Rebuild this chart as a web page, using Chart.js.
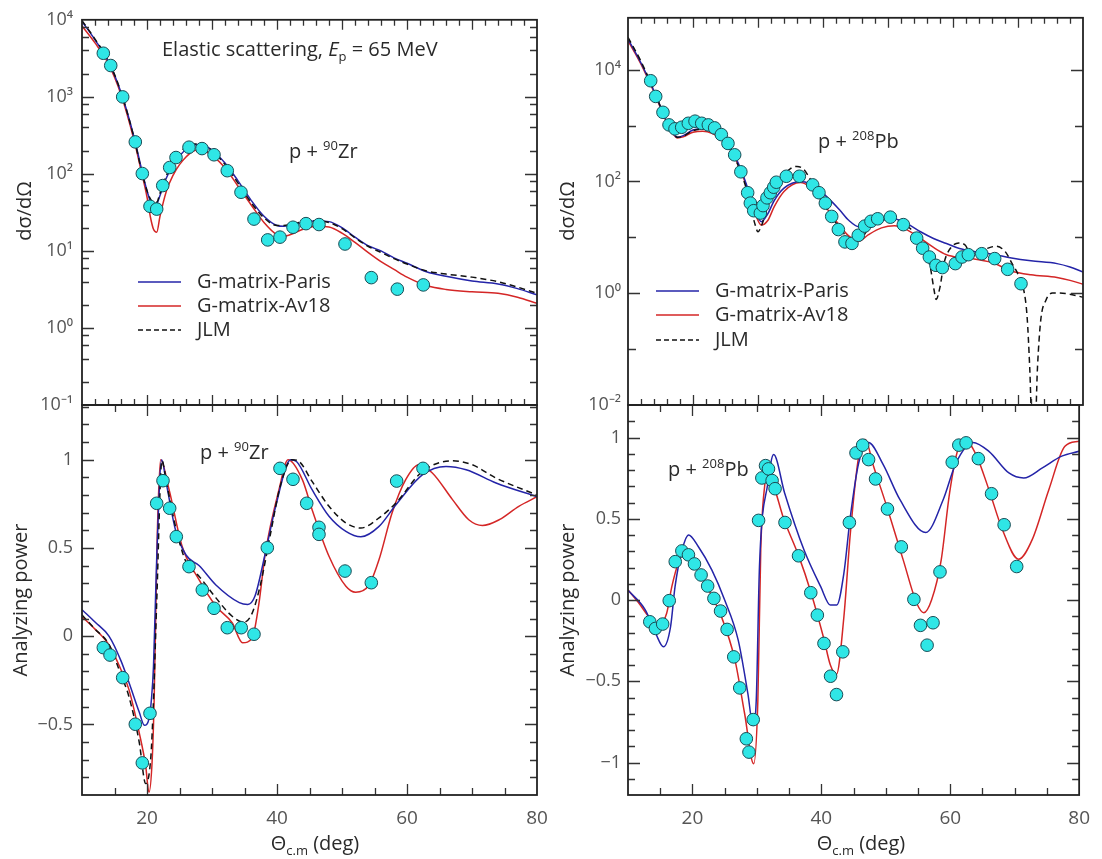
<!DOCTYPE html>
<html><head><meta charset="utf-8">
<script src="https://cdn.jsdelivr.net/npm/chart.js@4.4.1/dist/chart.umd.min.js"></script>
<style>
html,body{margin:0;padding:0;background:#fff;}
body{width:1102px;height:859px;position:relative;overflow:hidden;font-family:'Open Sans',sans-serif;color:#2a2a2a;}
canvas.c{position:absolute;left:0;top:0;}
.t{position:absolute;white-space:nowrap;font-size:20px;line-height:20px;}
.sp{font-size:13px;position:relative;top:-8px;}
.sb{font-size:13px;position:relative;top:5px;}
.rot{position:absolute;white-space:nowrap;font-size:20px;line-height:20px;transform:translate(-50%,-50%) rotate(-90deg);}
.xt{position:absolute;width:240px;text-align:center;font-size:20px;line-height:20px;}
svg.lg{position:absolute;overflow:visible;}
</style></head>
<body>
<canvas id="tl" class="c" width="1102" height="859"></canvas>
<canvas id="bl" class="c" width="1102" height="859"></canvas>
<canvas id="tr" class="c" width="1102" height="859"></canvas>
<canvas id="br" class="c" width="1102" height="859"></canvas>

<div class="t" style="left:162px;top:39px;">Elastic scattering, <i>E</i><span class="sb">p</span> = 65 MeV</div>
<div class="t" style="left:289px;top:141px;">p + <span class="sp">90</span>Zr</div>
<div class="t" style="left:818px;top:131px;">p + <span class="sp">208</span>Pb</div>
<div class="t" style="left:200px;top:442px;">p + <span class="sp">90</span>Zr</div>
<div class="t" style="left:668px;top:459px;">p + <span class="sp">208</span>Pb</div>

<svg class="lg" style="left:0;top:0" width="1102" height="859">
  <line x1="138" y1="282" x2="181" y2="282" stroke="#2424a8" stroke-width="1.5"/>
  <line x1="138" y1="306" x2="181" y2="306" stroke="#d42626" stroke-width="1.5"/>
  <line x1="138" y1="330" x2="181" y2="330" stroke="#111" stroke-width="1.5" stroke-dasharray="5,3"/>
  <line x1="656" y1="291" x2="699" y2="291" stroke="#2424a8" stroke-width="1.5"/>
  <line x1="656" y1="315" x2="699" y2="315" stroke="#d42626" stroke-width="1.5"/>
  <line x1="656" y1="340" x2="699" y2="340" stroke="#111" stroke-width="1.5" stroke-dasharray="5,3"/>
</svg>
<div class="t" style="left:197px;top:271px;">G-matrix-Paris</div>
<div class="t" style="left:197px;top:295px;">G-matrix-Av18</div>
<div class="t" style="left:197px;top:319px;">JLM</div>
<div class="t" style="left:715px;top:280px;">G-matrix-Paris</div>
<div class="t" style="left:715px;top:304px;">G-matrix-Av18</div>
<div class="t" style="left:715px;top:329px;">JLM</div>

<div class="rot" style="left:24px;top:211px;">dσ/dΩ</div>
<div class="rot" style="left:20px;top:600px;">Analyzing power</div>
<div class="rot" style="left:567px;top:211px;">dσ/dΩ</div>
<div class="rot" style="left:567px;top:600px;">Analyzing power</div>
<div class="xt" style="left:195px;top:833px;">Θ<span class="sb">c.m</span> (deg)</div>
<div class="xt" style="left:741px;top:833px;">Θ<span class="sb">c.m</span> (deg)</div>

<script>
// ---------- p + 90Zr cross section ----------
const ZR_XS_ANG = [13.28,14.42,16.26,18.2,19.28,20.46,21.49,22.42,23.49,24.46,26.46,28.46,30.31,32.35,34.46,36.46,38.57,40.46,42.46,44.46,46.46,50.46,54.51,58.51,62.51];
const ZR_XS_VAL = [3680,2550,998,260,101,38,34.9,70.5,121,163,222,213,177,110,57.8,25.9,13.9,15.1,20.3,22.6,22.0,12.3,4.5,3.19,3.62];
const ZR_XS_TH_ANG = [10,12,14,16,18,19,20,20.5,21,21.5,22,23,24,25,26,27,28,29,30,32,34,36,38,40,41,42,44,46,48,50,52,54,56,58,60,63,66,70,74,77,80];
const ZR_XS_PARIS = [9550,5500,2950,1150,302,132,60.3,44.7,38.9,40.7,52.5,89.1,132,170,209,234,240,229,204,138,81.3,45.7,28.2,21.4,20.9,21.4,23.4,24.5,24.0,20.0,15.1,11.7,10,8.13,6.92,5.37,4.68,4.07,3.72,3.24,2.69];
const ZR_XS_AV18  = [8320,5010,2750,1070,275,120,50.1,28.2,19.1,17.5,28.2,60.3,95.5,132,166,195,204,195,174,120,69.2,39.8,23.4,16.2,15.5,16.2,19.1,20.9,20.4,17.0,12.9,9.55,7.24,5.75,4.57,3.55,3.16,2.95,2.82,2.51,2.09];
const ZR_XS_JLM   = [9770,5620,3020,1150,295,126,60.3,47.9,42.7,42.7,56.2,95.5,145,186,224,245,245,229,200,132,75.9,42.7,26.9,21.4,21.4,21.9,24.0,24.5,23.4,19.5,14.8,11.5,9.55,7.94,6.76,5.50,5.01,4.57,3.98,3.39,2.82];

// ---------- p + 208Pb cross section ----------
const PB_XS_ANG = [13.49,14.26,15.38,16.31,17.23,18.26,19.28,20.31,21.34,22.36,23.33,24.36,25.38,26.41,27.36,28.41,28.82,29.34,30.36,30.77,31.38,31.9,32.42,32.82,34.36,36.36,38.41,39.38,40.36,41.34,42.36,43.38,44.46,45.43,46.41,47.38,48.41,50.36,52.36,54.41,55.33,56.36,57.38,58.36,60.36,61.38,62.36,64.42,66.41,68.41,70.46];
const PB_XS_VAL = [6350,3330,1730,1030,875,935,1100,1200,1100,1030,910,690,480,300,149,63,41,30,27.2,37,51,63,79,97,124,124,87,63,41,23.7,13.8,8.3,7.8,10.9,15.9,19.4,21.5,23,16.9,9.7,6.4,4.45,3.16,2.88,3.39,4.45,4.9,5.1,4.17,2.68,1.48];
const PB_XS_TH_ANG = [10,12,14,16,17,17.6,18.5,20,21.5,23,24.5,26,27.5,28.5,29.5,30.5,31.5,32.5,34,36.5,38,39.5,41,42.5,44,45.5,47,49,51,53,55,57,59,61,63,66,69,72,76,78,80];
const PB_XS_PARIS = [35500,13200,4170,1150,724,617,661,832,891,794,603,355,151,70.8,31.6,19.1,26.3,45.7,75.9,100,91.2,69.2,47.9,31.6,20.0,15.5,17.0,20.4,21.4,17.4,12.6,9.55,7.76,6.31,5.62,5.01,4.27,3.80,3.39,2.95,2.40];
const PB_XS_AV18  = [33100,12600,3980,1100,692,603,631,759,794,724,562,331,141,66.1,28.2,16.6,20.0,35.5,66.1,95.5,79.4,50.1,28.2,16.6,10.5,8.51,11.2,14.8,16.2,13.5,9.55,6.61,4.90,4.37,4.17,3.55,2.51,2.14,1.91,1.70,1.45];
const PB_XS_JLM_ANG = [10,12,14,16,17,17.6,18.5,20,21.5,23,24.5,26,27.5,28.5,29.5,30,30.5,31.5,32.5,34,35,36,37,38,39.5,41,42.5,44,45.5,47,49,50.5,52,53.5,55,56,56.5,57.1,57.4,58,58.6,59.4,60.9,61.9,62.7,64,65.2,66.6,68,69.1,70.2,70.9,71.4,71.8,72.2,72.6,73,73.5,74.3,75.3,77.3,80];
const PB_XS_JLM = [38000,14100,4270,1150,708,617,646,813,871,794,603,331,132,56.2,17.8,12.6,15.8,35.5,70.8,132,170,186,166,112,52.5,26.9,15.1,9.55,8.91,14.1,20.0,21.9,18.6,14.1,7.94,4.47,2.95,1.12,0.776,1.29,3.39,5.89,7.94,7.24,5.13,5.50,6.31,6.92,5.62,3.39,1.95,1.12,0.380,0.0479,0.00316,0.00316,0.0479,0.331,0.750,1.01,0.989,0.851];

// ---------- p + 90Zr analyzing power ----------
const ZR_AY_ANG = [13.28,14.31,16.26,18.2,19.28,20.46,21.49,22.46,23.49,24.51,26.46,28.51,30.31,32.35,34.5,36.46,38.51,40.46,42.46,44.57,46.46,46.46,50.46,54.51,58.41,62.46];
const ZR_AY_VAL = [-0.065,-0.107,-0.235,-0.499,-0.718,-0.437,0.753,0.881,0.725,0.564,0.394,0.262,0.158,0.048,0.048,0.011,0.501,0.951,0.889,0.753,0.617,0.577,0.369,0.303,0.879,0.951];
const ZR_AY_PARIS_ANG = [10,12,14.15,16,17.2,18.8,19.6,20.3,20.7,21,21.5,22.26,23,24.4,26,28,30.6,34.2,35.5,36.6,38.2,39.8,42.1,43,45.4,48,50.6,52.9,55.7,58.3,62.4,66,69.1,73.7,80];
const ZR_AY_PARIS = [0.15,0.08,0.0,-0.14,-0.26,-0.43,-0.505,-0.47,-0.35,-0.17,0.45,1.0,0.86,0.60,0.46,0.40,0.29,0.19,0.18,0.226,0.47,0.736,1.0,0.99,0.83,0.68,0.594,0.563,0.622,0.745,0.915,0.962,0.943,0.868,0.79];
const ZR_AY_JLM_ANG = [10,12,14.15,16,17.2,18.8,19.8,20.6,21,21.5,22.3,23,24.4,26,28,30.6,33.1,34.9,36.2,37.5,39,40.5,42.3,43.4,45.4,48,50.6,52.9,55.7,58.3,62.4,67,70,73.7,80];
const ZR_AY_JLM = [0.12,0.04,-0.047,-0.22,-0.34,-0.60,-0.835,-0.68,-0.36,0.2,0.995,0.87,0.62,0.42,0.34,0.217,0.113,0.079,0.132,0.30,0.58,0.85,1.0,0.99,0.877,0.736,0.642,0.613,0.670,0.755,0.934,0.994,0.972,0.896,0.80];
const ZR_AY_AV18_ANG = [10,12,14.15,16,17.2,18.8,19.8,20.3,20.8,21.1,21.6,22.1,23.4,25.4,28,30.6,33.1,34.7,36.2,37.2,38.2,40.3,41.7,43.9,45.4,48,50.6,52.1,54.2,55.7,57.7,59.8,61.8,63.9,67,69.5,71.6,74.2,77.2,80];
const ZR_AY_AV18 = [0.11,0.04,-0.05,-0.19,-0.30,-0.547,-0.736,-0.885,-0.70,-0.36,0.6,1.0,0.83,0.51,0.32,0.17,0.076,-0.037,-0.009,0.18,0.47,0.83,1.0,0.887,0.717,0.453,0.283,0.249,0.293,0.434,0.698,0.887,0.972,0.925,0.774,0.66,0.627,0.66,0.736,0.79];

// ---------- p + 208Pb analyzing power ----------
const PB_AY_ANG = [13.38,14.26,15.38,16.4,17.33,18.36,19.38,20.31,21.34,22.36,23.33,24.36,25.38,26.41,27.34,28.36,28.77,29.43,30.26,30.77,31.34,31.8,32.36,32.82,34.36,36.46,38.36,39.38,40.41,41.43,42.35,43.33,44.35,45.38,46.41,47.33,48.41,50.26,52.41,54.36,55.38,56.41,57.33,58.41,60.31,61.33,62.46,64.36,66.41,68.36,70.31];
const PB_AY_VAL = [-0.134,-0.175,-0.148,-0.004,0.236,0.302,0.278,0.222,0.154,0.086,0.01,-0.068,-0.181,-0.35,-0.541,-0.854,-0.936,-0.736,0.49,0.751,0.827,0.807,0.735,0.685,0.477,0.272,0.045,-0.093,-0.267,-0.469,-0.582,-0.319,0.477,0.905,0.953,0.864,0.745,0.56,0.327,0.004,-0.156,-0.278,-0.14,0.173,0.848,0.953,0.967,0.87,0.654,0.463,0.206];
const PB_AY_PARIS_ANG = [10,12.7,14.3,15.5,16.6,17.3,18.4,19.4,20.9,23,25,27.1,28.6,29.4,29.9,30.4,31.7,32.6,34.3,37.3,39.9,41.4,42.4,43.5,44.5,45.8,47.3,49.6,52.2,56.2,58.9,60.9,63.5,66,69.1,71.4,74.3,77.3,80];
const PB_AY_PARIS = [0.06,-0.062,-0.206,-0.288,-0.165,0.082,0.309,0.40,0.329,0.185,0.0,-0.247,-0.576,-0.772,-0.617,0.206,0.72,0.895,0.659,0.309,0.082,-0.031,-0.031,0.165,0.514,0.844,0.97,0.833,0.617,0.415,0.617,0.844,0.97,0.915,0.782,0.751,0.813,0.885,0.915];
const PB_AY_AV18_ANG = [10,11.7,13.7,15,16,16.8,17.8,18.9,20.4,22.5,24.5,26.6,28.1,29.5,30.15,30.6,31.2,31.6,34.36,36.5,38.4,40.4,41.4,42.35,43.5,44.5,45.8,46.8,48.1,50.15,52.7,54.8,55.9,57.1,58.6,59.9,61.2,62.5,64,66,68.1,70.6,72.7,75.3,77.8,80];
const PB_AY_AV18 = [0.062,-0.02,-0.123,-0.144,-0.082,0.082,0.226,0.292,0.206,0.062,-0.103,-0.37,-0.70,-1.008,-0.617,0.309,0.70,0.77,0.477,0.27,0.045,-0.24,-0.40,-0.457,-0.103,0.41,0.885,0.988,0.823,0.576,0.247,-0.02,-0.078,0.0,0.247,0.659,0.926,0.977,0.895,0.679,0.432,0.251,0.37,0.679,0.946,0.977];

// ---------- tick labels ----------
const X_LABELS = [20,40,60,80];
const ZR_XS_DECADES = [-1,0,1,2,3,4];
const PB_XS_DECADES = [-2,-1,0,1,2,3,4];
const PB_XS_LABELED = [-2,0,2,4];
const ZR_AY_LABELS = [-0.5,0,0.5,1];
const PB_AY_LABELS = [-1,-0.5,0,0.5,1];

// ---------- styling ----------
const FONT = "'Open Sans', sans-serif";
Chart.defaults.font.family = FONT;
const BLUE = '#2424a8', RED = '#d42626', BLACK = '#111';
const SUP = {'0':'⁰','1':'¹','2':'²','3':'³','4':'⁴','5':'⁵','6':'⁶','7':'⁷','8':'⁸','9':'⁹','-':'⁻'};
const powLabel = e => '10' + String(e).split('').map(c => SUP[c]).join('');
const numLabel = v => (v < 0 ? '−' + Math.abs(v) : String(v));

const pts = (xs, ys) => xs.map((x, i) => ({x, y: ys[i]}));
const markerDS = (xs, ys) => ({label:'data', data: pts(xs, ys), showLine:false, pointRadius:6.3, pointHoverRadius:6.3,
  pointBackgroundColor:'#2fe6e6', pointBorderColor:'#1a4c55', pointBorderWidth:1});
const lineDS = (label, xs, ys, color, dash) => ({label, data: pts(xs, ys), showLine:true, pointRadius:0, pointHoverRadius:0,
  borderColor:color, borderWidth:1.5, borderDash: dash || [], cubicInterpolationMode:'monotone', fill:false});

function rng(a, b, s) { const r = []; for (let k = 0; a + k * s <= b + 1e-9; k++) r.push(+(a + k * s).toFixed(6)); return r; }

// tick-mark decorations (inside, mirrored on all four sides)
const TICKS = {};
TICKS.tl = { x: rng(12, 78, 2).map(v => [v, v % 10 === 0 ? 10 : 6]),
             y: [].concat(...ZR_XS_DECADES.map(e => [[Math.pow(10, e), 12]].concat(e < 4 ? [2,4,6,8].map(m => [m * Math.pow(10, e), 7]) : []))) };
TICKS.tr = { x: TICKS.tl.x,
             y: PB_XS_DECADES.map(e => [Math.pow(10, e), PB_XS_LABELED.includes(e) ? 12 : 8]) };
TICKS.bl = { x: rng(15, 75, 5).map(v => [v, v % 20 === 0 ? 11 : 7]),
             y: rng(-0.9, 1.3, 0.1).map(v => [v, ZR_AY_LABELS.some(l => Math.abs(l - v) < 1e-6) ? 12 : 7]) };
TICKS.br = { x: TICKS.bl.x,
             y: rng(-1.2, 1.2, 0.1).map(v => [v, PB_AY_LABELS.some(l => Math.abs(l - v) < 1e-6) ? 12 : 7]) };

const frameTicks = {
  id: 'frameTicks',
  afterDatasetsDraw(chart) {
    const spec = TICKS[chart.canvas.id];
    const {ctx, chartArea: a} = chart;
    const xs = chart.scales.x, ys = chart.scales.y;
    ctx.save();
    ctx.strokeStyle = '#333'; ctx.lineWidth = 1.3;
    ctx.beginPath();
    for (const [v, len] of spec.x) {
      const p = Math.round(xs.getPixelForValue(v)) + 0.5;
      if (p < a.left + 1 || p > a.right - 1) continue;
      ctx.moveTo(p, a.bottom); ctx.lineTo(p, a.bottom - len);
      ctx.moveTo(p, a.top); ctx.lineTo(p, a.top + len);
    }
    for (const [v, len] of spec.y) {
      const p = Math.round(ys.getPixelForValue(v)) + 0.5;
      if (p < a.top + 1 || p > a.bottom - 1) continue;
      ctx.moveTo(a.left, p); ctx.lineTo(a.left + len, p);
      ctx.moveTo(a.right, p); ctx.lineTo(a.right - len, p);
    }
    ctx.stroke();
    ctx.lineWidth = 1.8; ctx.strokeStyle = '#222';
    ctx.strokeRect(a.left, a.top, a.right - a.left, a.bottom - a.top);
    ctx.restore();
  }
};

function makeChart(id, o) {
  const tickFont = {family: FONT, size: 18};
  return new Chart(document.getElementById(id), {
    type: 'scatter',
    data: { datasets: o.datasets },
    options: {
      responsive: false, animation: false, devicePixelRatio: 1,
      layout: { padding: o.pad },
      plugins: { legend: {display:false}, tooltip: {enabled:false} },
      events: [],
      scales: {
        x: {
          type: 'linear', min: 10, max: 80, display: o.xShow,
          grid: {display:false, drawTicks:false}, border: {display:false},
          ticks: {autoSkip:false, maxRotation:0, padding:12, color:'#555', font:{family:FONT, size:19}, callback: v => String(v)},
          afterBuildTicks: s => { s.ticks = X_LABELS.map(v => ({value: v})); },
          afterFit: s => { s.height = o.xH || 0; }
        },
        y: {
          type: o.yType, min: o.yMin, max: o.yMax,
          grid: {display:false, drawTicks:false}, border: {display:false},
          ticks: {autoSkip:false, padding: o.yPad, color:'#555', font: tickFont, callback: o.yLabel},
          afterBuildTicks: s => { s.ticks = o.yTicks.map(v => ({value: v})); },
          afterFit: s => { s.width = o.yW; }
        }
      }
    },
    plugins: [frameTicks]
  });
}

makeChart('tl', {
  pad: {left:0, top:17, right:565, bottom:454}, yW:82, yPad:9, xShow:false,
  yType:'logarithmic', yMin:0.1, yMax:10000,
  yTicks: ZR_XS_DECADES.map(e => Math.pow(10, e)),
  yLabel: v => powLabel(Math.round(Math.log10(v))),
  datasets: [
    markerDS(ZR_XS_ANG, ZR_XS_VAL),
    lineDS('JLM', ZR_XS_TH_ANG, ZR_XS_JLM, BLACK, [6,4]),
    lineDS('G-matrix-Paris', ZR_XS_TH_ANG, ZR_XS_PARIS, BLUE),
    lineDS('G-matrix-Av18', ZR_XS_TH_ANG, ZR_XS_AV18, RED)
  ]
});

makeChart('tr', {
  pad: {left:540, top:17, right:19, bottom:454}, yW:88, yPad:7, xShow:false,
  yType:'logarithmic', yMin:0.01, yMax:85000,
  yTicks: PB_XS_LABELED.map(e => Math.pow(10, e)),
  yLabel: v => powLabel(Math.round(Math.log10(v))),
  datasets: [
    markerDS(PB_XS_ANG, PB_XS_VAL),
    lineDS('JLM', PB_XS_JLM_ANG, PB_XS_JLM, BLACK, [6,4]),
    lineDS('G-matrix-Paris', PB_XS_TH_ANG, PB_XS_PARIS, BLUE),
    lineDS('G-matrix-Av18', PB_XS_TH_ANG, PB_XS_AV18, RED)
  ]
});

makeChart('bl', {
  pad: {left:0, top:405, right:565, bottom:0}, yW:82, yPad:9, xShow:true, xH:64,
  yType:'linear', yMin:-0.9, yMax:1.31,
  yTicks: ZR_AY_LABELS, yLabel: numLabel,
  datasets: [
    markerDS(ZR_AY_ANG, ZR_AY_VAL),
    lineDS('JLM', ZR_AY_JLM_ANG, ZR_AY_JLM, BLACK, [6,4]),
    lineDS('G-matrix-Paris', ZR_AY_PARIS_ANG, ZR_AY_PARIS, BLUE),
    lineDS('G-matrix-Av18', ZR_AY_AV18_ANG, ZR_AY_AV18, RED)
  ]
});

makeChart('br', {
  pad: {left:540, top:405, right:19, bottom:0}, yW:88, yPad:7, xShow:true, xH:64,
  yType:'linear', yMin:-1.2, yMax:1.2,
  yTicks: PB_AY_LABELS, yLabel: numLabel,
  datasets: [
    markerDS(PB_AY_ANG, PB_AY_VAL),
    lineDS('G-matrix-Paris', PB_AY_PARIS_ANG, PB_AY_PARIS, BLUE),
    lineDS('G-matrix-Av18', PB_AY_AV18_ANG, PB_AY_AV18, RED)
  ]
});
</script>
</body></html>
